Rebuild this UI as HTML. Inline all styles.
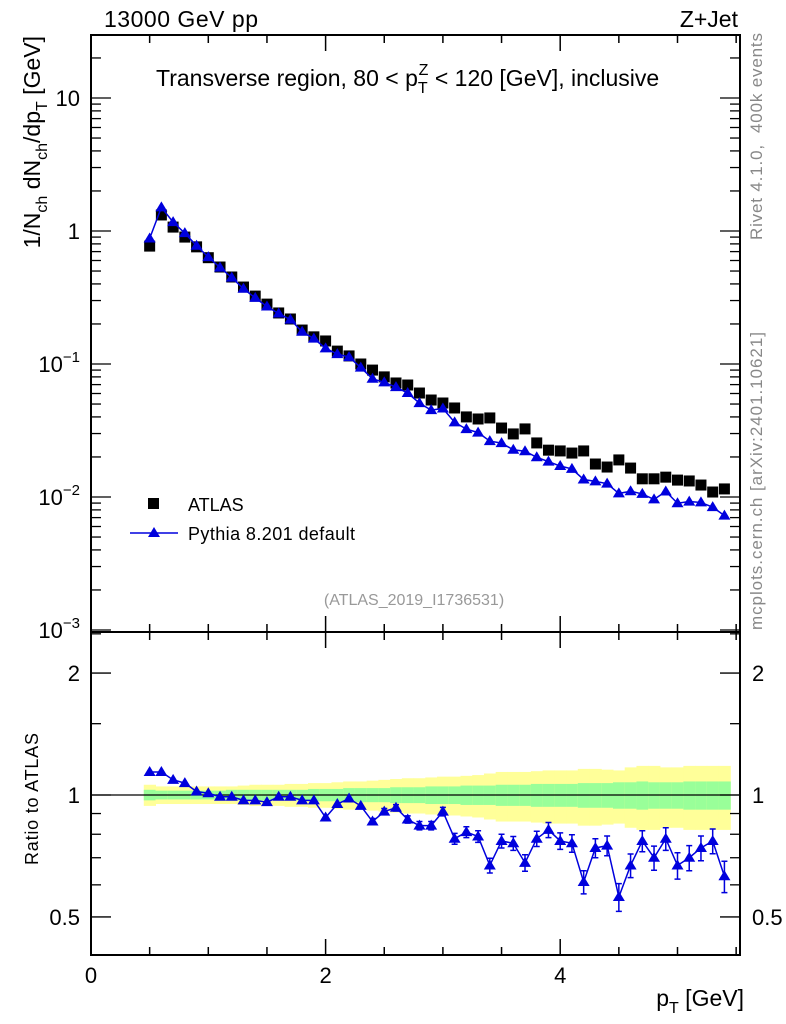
<!DOCTYPE html>
<html><head><meta charset="utf-8"><style>
body{margin:0;background:#fff;}
svg{display:block;font-family:"Liberation Sans",Arial,sans-serif;}
</style></head><body>
<svg id="chart" width="786" height="1024" viewBox="0 0 786 1024">
<g id="bands"></g>
<g id="axes"></g>
<g id="series"></g>
<text x="104" y="27" font-size="23" textLength="154">13000 GeV pp</text>
<text x="738" y="27" font-size="23" text-anchor="end">Z+Jet</text>
<text x="156" y="86" font-size="23">Transverse region, 80 &lt; p<tspan font-size="16" dy="7">T</tspan><tspan font-size="16" dx="-9" dy="-18">Z</tspan><tspan dy="11"> &lt; 120 [GeV], inclusive</tspan></text>
<text transform="translate(40,36) rotate(-90)" font-size="23" text-anchor="end">1/N<tspan font-size="16" dy="7">ch</tspan><tspan dy="-7"> dN</tspan><tspan font-size="16" dy="7">ch</tspan><tspan dy="-7">/dp</tspan><tspan font-size="16" dy="7">T</tspan><tspan dy="-7"> [GeV]</tspan></text>
<text transform="translate(38,799) rotate(-90)" font-size="18" text-anchor="middle" textLength="132">Ratio to ATLAS</text>
<text x="744" y="1006" font-size="23" text-anchor="end">p<tspan font-size="16" dy="7">T</tspan><tspan dy="-7"> [GeV]</tspan></text>
<text transform="translate(762,240) rotate(-90)" font-size="17" fill="#888" textLength="207">Rivet 4.1.0,&#160; 400k events</text>
<text transform="translate(762,630) rotate(-90)" font-size="17" fill="#888" textLength="298">mcplots.cern.ch [arXiv:2401.10621]</text>
<text x="414" y="605" font-size="16" fill="#999" text-anchor="middle">(ATLAS_2019_I1736531)</text>
<g>
<rect x="148" y="498" width="11" height="11" fill="#000"/>
<text x="188" y="511" font-size="18">ATLAS</text>
<line x1="130" y1="533" x2="178" y2="533" stroke="#0000dd" stroke-width="1.5"/>
<polygon points="154,527 160,537 148,537" fill="#0000dd"/>
<text x="188" y="540" font-size="18" textLength="167">Pythia 8.201 default</text>
</g>
</svg>
<script>
const pt=[0.5,0.6,0.7,0.8,0.9,1.0,1.1,1.2,1.3,1.4,1.5,1.6,1.7,1.8,1.9,2.0,2.1,2.2,2.3,2.4,2.5,2.6,2.7,2.8,2.9,3.0,3.1,3.2,3.3,3.4,3.5,3.6,3.7,3.8,3.9,4.0,4.1,4.2,4.3,4.4,4.5,4.6,4.7,4.8,4.9,5.0,5.1,5.2,5.3,5.4];
const atlas=[0.77,1.32,1.07,0.90,0.76,0.63,0.536,0.451,0.379,0.324,0.282,0.242,0.218,0.180,0.160,0.149,0.125,0.115,0.100,0.090,0.080,0.072,0.0695,0.0605,0.0536,0.0509,0.0467,0.0400,0.0386,0.0393,0.0330,0.0298,0.0325,0.0255,0.0225,0.0222,0.0214,0.0222,0.0177,0.0168,0.0190,0.0165,0.0137,0.0137,0.0141,0.0134,0.0132,0.0123,0.0109,0.0115];
const ratio=[1.14,1.14,1.09,1.07,1.02,1.01,0.99,0.99,0.97,0.97,0.96,0.99,0.99,0.97,0.97,0.88,0.95,0.98,0.94,0.86,0.91,0.93,0.87,0.84,0.84,0.91,0.78,0.81,0.79,0.67,0.77,0.76,0.68,0.78,0.82,0.77,0.76,0.61,0.74,0.75,0.56,0.67,0.77,0.70,0.78,0.67,0.70,0.74,0.77,0.63];
const ratioErr=[0.005,0.005,0.005,0.005,0.005,0.005,0.006,0.006,0.007,0.007,0.008,0.008,0.009,0.01,0.01,0.012,0.012,0.013,0.014,0.015,0.016,0.017,0.018,0.02,0.02,0.022,0.024,0.025,0.026,0.028,0.03,0.03,0.032,0.034,0.035,0.036,0.038,0.04,0.04,0.042,0.044,0.045,0.046,0.048,0.05,0.05,0.05,0.052,0.054,0.056];
const statUnc=[0.03,0.025,0.025,0.025,0.025,0.025,0.025,0.03,0.03,0.03,0.03,0.03,0.03,0.03,0.035,0.035,0.035,0.04,0.04,0.04,0.04,0.045,0.045,0.045,0.05,0.05,0.05,0.055,0.055,0.055,0.06,0.06,0.06,0.065,0.065,0.065,0.065,0.07,0.07,0.07,0.075,0.075,0.08,0.075,0.075,0.075,0.08,0.08,0.08,0.08];
const totUnc=[0.06,0.05,0.05,0.05,0.05,0.05,0.05,0.05,0.055,0.06,0.06,0.06,0.065,0.065,0.07,0.07,0.075,0.08,0.08,0.085,0.09,0.095,0.1,0.1,0.105,0.11,0.11,0.115,0.12,0.13,0.14,0.14,0.14,0.145,0.15,0.15,0.15,0.16,0.16,0.155,0.15,0.17,0.18,0.18,0.17,0.17,0.18,0.18,0.18,0.18];
const xTicks=[0,2,4];
const yTicksMain=[{v:10,l:"10"},{v:1,l:"1"},{v:0.1,l:"10<sup>−1</sup>"},{v:0.01,l:"10<sup>−2</sup>"},{v:0.001,l:"10<sup>−3</sup>"}];
const yTicksRatio=[0.5,1,2];

const NS="http://www.w3.org/2000/svg";
const L=91,R=740,T=35,MB=632,RB=955;
const xMin=0,xMax=(R-L)/117.3;
const X=v=>L+(v-xMin)/(xMax-xMin)*(R-L);
const Y=v=>497-(Math.log10(v)+2)*133;
const YR=v=>795-Math.log10(v)*405;
function mk(tag,attrs,parent){const e=document.createElementNS(NS,tag);for(const k in attrs)e.setAttribute(k,attrs[k]);parent.appendChild(e);return e;}
const axes=document.getElementById('axes'),series=document.getElementById('series'),bands=document.getElementById('bands');

pt.forEach((p,i)=>{
  const x0=X(p-0.05),x1=X(p+0.05);
  const y=mk('rect',{x:x0,y:YR(1+totUnc[i]),width:x1-x0+0.5,height:YR(1-totUnc[i])-YR(1+totUnc[i]),fill:'#ffff99'},bands);
  
  
  const g=mk('rect',{x:x0,y:YR(1+statUnc[i]),width:x1-x0+0.5,height:YR(1-statUnc[i])-YR(1+statUnc[i]),fill:'#99ff99'},bands);
  
  
});
const ref=mk('line',{x1:L,y1:YR(1),x2:R,y2:YR(1),stroke:'#000','stroke-width':1.3},bands);



[[T,MB],[MB,RB]].forEach(([a,b])=>{const f=mk('rect',{x:L,y:a,width:R-L,height:b-a,fill:'none',stroke:'#000','stroke-width':2},axes);});

for(let v=0;v<=xMax+1e-9;v+=0.5){
  const maj=Math.abs(v%2)<1e-9, len=maj?16:8, x=X(v);
  [[MB,-1],[T,1],[RB,-1],[MB,1]].forEach(([yy,d])=>mk('line',{x1:x,y1:yy,x2:x,y2:yy+d*len,stroke:'#000','stroke-width':1.5},axes));
}
xTicks.forEach(v=>{const t=mk('text',{x:X(v),y:983,'font-size':22,'text-anchor':'middle'},axes);t.textContent=v;});

for(let e=-3;e<=1;e++){for(let m=1;m<10;m++){const v=m*Math.pow(10,e),y=Y(v);if(y<T||y>MB)continue;const len=m==1?20:10;
  mk('line',{x1:L,y1:y,x2:L+len,y2:y,stroke:'#000','stroke-width':1.3},axes);mk('line',{x1:R,y1:y,x2:R-len,y2:y,stroke:'#000','stroke-width':1.3},axes);}}
yTicksMain.forEach(t=>{const y=Y(t.v);const el=mk('text',{x:80,y:y+8,'font-size':22,'text-anchor':'end'},axes);
  
  
  if(t.l.indexOf('sup')>=0){el.textContent='10';const s=mk('tspan',{'font-size':15,dy:-10},el);s.textContent=t.l.replace(/.*<sup>|<\/sup>/g,'');}else el.textContent=t.l;});

[0.5,0.6,0.7,0.8,0.9,1,1.5,2,2.5].forEach(v=>{const y=YR(v);if(y<MB||y>RB)return;const len=(v==0.5||v==1||v==2)?20:10;
  mk('line',{x1:L,y1:y,x2:L+len,y2:y,stroke:'#000','stroke-width':1.3},axes);mk('line',{x1:R,y1:y,x2:R-len,y2:y,stroke:'#000','stroke-width':1.3},axes);});
yTicksRatio.forEach(v=>{const y=YR(v);const lab=v==0.5?'0.5':String(v);
  const a=mk('text',{x:80,y:y+8,'font-size':22,'text-anchor':'end'},axes);a.textContent=lab;
  
  
  const b=mk('text',{x:752,y:y+8,'font-size':22},axes);b.textContent=lab;
  
  });

const mc=atlas.map((a,i)=>a*ratio[i]);
pt.forEach((p,i)=>{const s=mk('rect',{x:X(p)-5.5,y:Y(atlas[i])-5.5,width:11,height:11,fill:'#000'},series);
  
  });
const lm=mk('polyline',{points:pt.map((p,i)=>X(p)+','+Y(mc[i])).join(' '),fill:'none',stroke:'#0000dd','stroke-width':1.5},series);


const lr=mk('polyline',{points:pt.map((p,i)=>X(p)+','+YR(ratio[i])).join(' '),fill:'none',stroke:'#0000dd','stroke-width':1.5},series);


function tri(x,y,name){const t=mk('polygon',{points:`${x},${y-6} ${x+6},${y+4} ${x-6},${y+4}`,fill:'#0000dd'},series);
  
  }
pt.forEach((p,i)=>{
  tri(X(p),Y(mc[i]),'pythia-point');
  const x=X(p),y1=YR(ratio[i]+ratioErr[i]),y2=YR(ratio[i]-ratioErr[i]);
  if(y2-y1>6){const eb=mk('path',{d:`M${x},${y1}V${y2}M${x-3},${y1}H${x+3}M${x-3},${y2}H${x+3}`,stroke:'#0000dd','stroke-width':1.5,fill:'none'},series);
    
    }
  tri(x,YR(ratio[i]),'pythia-ratio-point');
});
</script>
</body></html>
